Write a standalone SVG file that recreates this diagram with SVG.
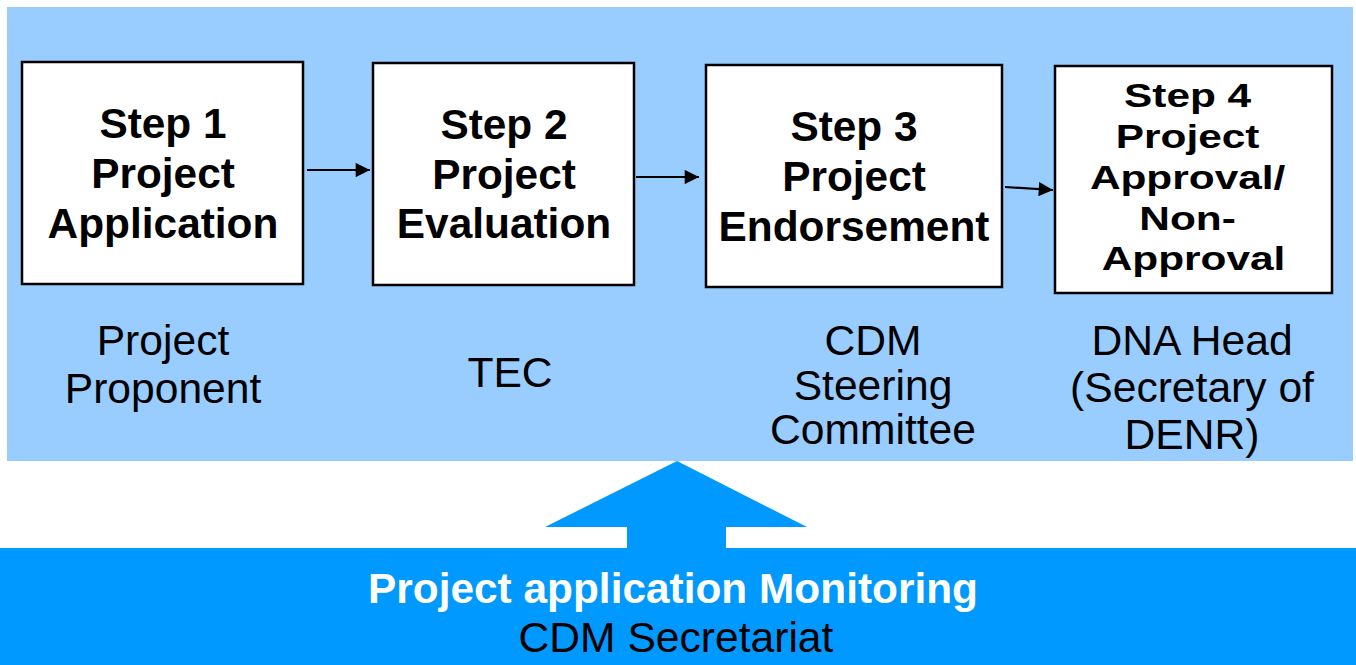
<svg xmlns="http://www.w3.org/2000/svg" width="1356" height="665" viewBox="0 0 1356 665">
<style>
.box{fill:#ffffff;stroke:#000000;stroke-width:2.5}
.bt{font-family:"Liberation Sans",Arial,sans-serif;font-weight:bold;font-size:42.4px;fill:#000;text-anchor:middle}
.lb{font-family:"Liberation Sans",Arial,sans-serif;font-size:42.6px;fill:#000;text-anchor:middle}
.conn{stroke:#000;stroke-width:2.2;fill:none}
</style>
<defs>
<marker id="ah" viewBox="0 0 10 10" refX="10" refY="5" markerWidth="7" markerHeight="6.5" markerUnits="strokeWidth" orient="auto">
<path d="M0,0 L10,5 L0,10 Z" fill="#000"/>
</marker>
</defs>
<rect id="background" x="7" y="7" width="1346" height="454" fill="#99CCFF"/>
<rect id="monitor-bar" x="0" y="548" width="1356" height="117" fill="#0099FF"/>
<polygon id="up-arrow" points="677,461 807,527 726,527 726,549 627,549 627,527 545,527" fill="#0099FF"/>
<g id="step1">
<rect class="box" x="22" y="62" width="281" height="222"/>
<text class="bt" x="163" y="138">Step 1</text>
<text class="bt" x="163" y="188">Project</text>
<text class="bt" x="163" y="238">Application</text>
</g>
<g id="step2">
<rect class="box" x="373" y="63" width="261" height="222"/>
<text class="bt" x="504" y="139">Step 2</text>
<text class="bt" x="504" y="189">Project</text>
<text class="bt" x="504" y="238">Evaluation</text>
</g>
<g id="step3">
<rect class="box" x="706" y="65" width="296" height="222"/>
<text class="bt" x="854" y="141">Step 3</text>
<text class="bt" x="854" y="191">Project</text>
<text class="bt" x="854" y="241">Endorsement</text>
</g>
<g id="step4">
<rect class="box" x="1055" y="66" width="277" height="227"/>
<text class="bt" transform="matrix(1 0 0 0.8 1193.5 0)">
<tspan x="0" y="133.5">Step 4</tspan>
<tspan x="0" y="184.5">Project</tspan>
<tspan x="0" y="236">Approval/</tspan>
<tspan x="0" y="287">Non-</tspan>
<tspan x="0" y="338">Approval</tspan>
</text>
</g>
<g id="connectors">
<line class="conn" x1="307" y1="170" x2="370" y2="170" marker-end="url(#ah)"/>
<line class="conn" x1="636" y1="177" x2="699" y2="177" marker-end="url(#ah)"/>
<line class="conn" x1="1005" y1="187" x2="1053" y2="190" marker-end="url(#ah)"/>
</g>
<g id="label-proponent">
<text class="lb" x="163" y="355">Project</text>
<text class="lb" x="163" y="403">Proponent</text>
</g>
<g id="label-tec">
<text class="lb" x="510" y="387">TEC</text>
</g>
<g id="label-steering">
<text class="lb" x="873" y="355">CDM</text>
<text class="lb" x="873" y="400">Steering</text>
<text class="lb" x="873" y="444">Committee</text>
</g>
<g id="label-dna">
<text class="lb" x="1192" y="355">DNA Head</text>
<text class="lb" x="1192" y="402">(Secretary of</text>
<text class="lb" x="1192" y="449">DENR)</text>
</g>
<g id="monitoring">
<text class="bt" x="673" y="603" style="fill:#ffffff">Project application Monitoring</text>
<text class="lb" x="676" y="652">CDM Secretariat</text>
</g>
</svg>
